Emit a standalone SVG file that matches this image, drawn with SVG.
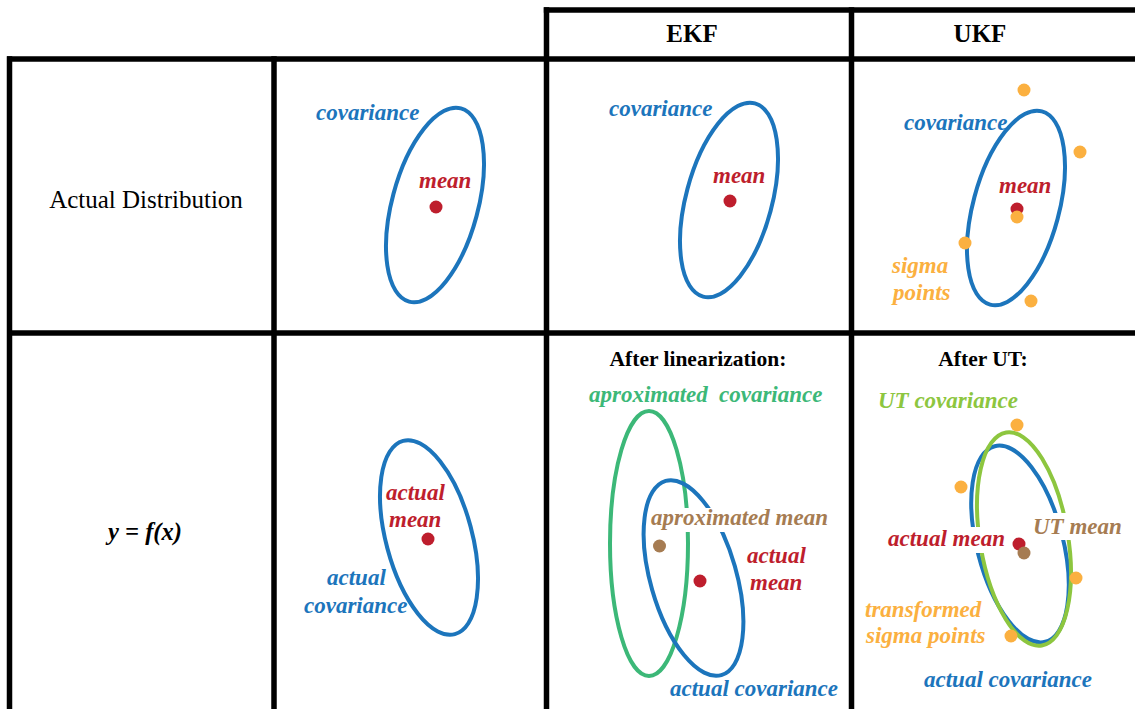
<svg xmlns="http://www.w3.org/2000/svg" width="1135" height="709" viewBox="0 0 1135 709">
<style>
.grid{stroke:#000;stroke-width:5.5;fill:none}
.ell{fill:none;stroke-width:4}
.blue{stroke:#1c75bc}
.green{stroke:#3cb878}
.lgreen{stroke:#8dc63f}
.lab{font-family:'Liberation Serif',serif;font-weight:bold;font-style:italic;font-size:23px}
.hdr{font-family:'Liberation Serif',serif;font-weight:bold;fill:#000}
.reg{font-family:'Liberation Serif',serif;fill:#000}
.tb{fill:#1c75bc}.tr{fill:#be1e2d}.to{fill:#fbb040}.tg{fill:#3cb878}.tlg{fill:#8dc63f}.tbr{fill:#a67c52}
.dr{fill:#be1e2d}.do{fill:#fbb040}.dbr{fill:#a67c52}
.mask{fill:#fff}
</style>
<g id="table">
<line class="grid" x1="543.8" y1="10" x2="1135" y2="10"/>
<line class="grid" x1="7" y1="59" x2="1135" y2="59"/>
<line class="grid" x1="7" y1="333" x2="1135" y2="333"/>
<line class="grid" x1="9.5" y1="56.3" x2="9.5" y2="709"/>
<line class="grid" x1="274" y1="56.3" x2="274" y2="709"/>
<line class="grid" x1="546.5" y1="7.3" x2="546.5" y2="709"/>
<line class="grid" x1="851.5" y1="7.3" x2="851.5" y2="709"/>
</g>
<g id="headers">
<text class="hdr" x="692" y="42" font-size="25" text-anchor="middle">EKF</text>
<text class="hdr" x="980" y="42" font-size="25" text-anchor="middle">UKF</text>
<text class="reg" x="146" y="208" font-size="25" text-anchor="middle">Actual Distribution</text>
<text class="hdr" x="145" y="540" font-size="24.5" font-style="italic" text-anchor="middle">y = f(x)</text>
</g>
<g id="actual-dist">
<ellipse class="ell blue" cx="0" cy="0" rx="43" ry="100" transform="translate(435 205) rotate(15)"/>
<circle class="dr" cx="436" cy="207" r="6.5"/>
<text class="lab tr" x="419" y="188">mean</text>
<text class="lab tb" x="316" y="120">covariance</text>
</g>
<g id="ekf-dist">
<ellipse class="ell blue" cx="0" cy="0" rx="43" ry="100" transform="translate(729 200) rotate(15)"/>
<circle class="dr" cx="730" cy="201" r="6.5"/>
<text class="lab tr" x="713" y="183">mean</text>
<text class="lab tb" x="609" y="116">covariance</text>
</g>
<g id="ukf-dist">
<ellipse class="ell blue" cx="0" cy="0" rx="43" ry="100" transform="translate(1016 208) rotate(15)"/>
<circle class="dr" cx="1017" cy="209" r="6.5"/>
<circle class="do" cx="1017" cy="217" r="6.5"/>
<circle class="do" cx="1024" cy="90" r="6.5"/>
<circle class="do" cx="1080" cy="152" r="6.5"/>
<circle class="do" cx="965" cy="243" r="6.5"/>
<circle class="do" cx="1031" cy="301" r="6.5"/>
<text class="lab tr" x="999" y="193">mean</text>
<text class="lab tb" x="904" y="130">covariance</text>
<text class="lab to" x="892" y="273">sigma</text>
<text class="lab to" x="893" y="300">points</text>
</g>
<g id="actual-fx">
<ellipse class="ell blue" cx="0" cy="0" rx="43" ry="100" transform="translate(429 537.5) rotate(-15)"/>
<circle class="dr" cx="428" cy="539" r="6.5"/>
<text class="lab tr" x="386" y="500">actual</text>
<text class="lab tr" x="389" y="527">mean</text>
<text class="lab tb" x="327" y="585">actual</text>
<text class="lab tb" x="304" y="613">covariance</text>
</g>
<g id="ekf-fx">
<text class="hdr" x="698" y="366" font-size="21.5" text-anchor="middle">After linearization:</text>
<text class="lab tg" x="589" y="402">aproximated<tspan x="719">covariance</tspan></text>
<ellipse class="ell green" cx="649" cy="543.5" rx="39" ry="132.5"/>
<ellipse class="ell blue" cx="0" cy="0" rx="43" ry="101" transform="translate(693.5 578) rotate(-16)"/>
<rect class="mask" x="648" y="508" width="182" height="24" rx="6"/>
<text class="lab tbr" x="651" y="525">aproximated mean</text>
<circle class="dbr" cx="659.5" cy="546" r="6.5"/>
<circle class="dr" cx="700" cy="581" r="6.5"/>
<text class="lab tr" x="747" y="563">actual</text>
<text class="lab tr" x="750" y="590">mean</text>
<text class="lab tb" x="670" y="696">actual covariance</text>
</g>
<g id="ukf-fx">
<text class="hdr" x="983" y="366" font-size="21.5" text-anchor="middle">After UT:</text>
<text class="lab tlg" x="878" y="408">UT covariance</text>
<ellipse class="ell blue" cx="0" cy="0" rx="43" ry="101" transform="translate(1020 544) rotate(-14.5)"/>
<ellipse class="ell lgreen" cx="0" cy="0" rx="44" ry="108" transform="translate(1024 539) rotate(-9.5)"/>
<rect class="mask" x="883" y="527" width="125" height="26" rx="8"/>
<rect class="mask" x="1028" y="513" width="100" height="27" rx="8"/>
<text class="lab tr" x="888" y="546">actual mean</text>
<text class="lab tbr" x="1033" y="534">UT mean</text>
<circle class="dr" cx="1019" cy="544" r="6.5"/>
<circle class="dbr" cx="1024" cy="553" r="6.5"/>
<circle class="do" cx="1017" cy="425" r="6.5"/>
<circle class="do" cx="961" cy="487" r="6.5"/>
<circle class="do" cx="1076" cy="578" r="6.5"/>
<circle class="do" cx="1011" cy="636" r="6.5"/>
<text class="lab to" x="865" y="617">transformed</text>
<text class="lab to" x="866" y="643">sigma points</text>
<text class="lab tb" x="924" y="687">actual covariance</text>
</g>
</svg>
